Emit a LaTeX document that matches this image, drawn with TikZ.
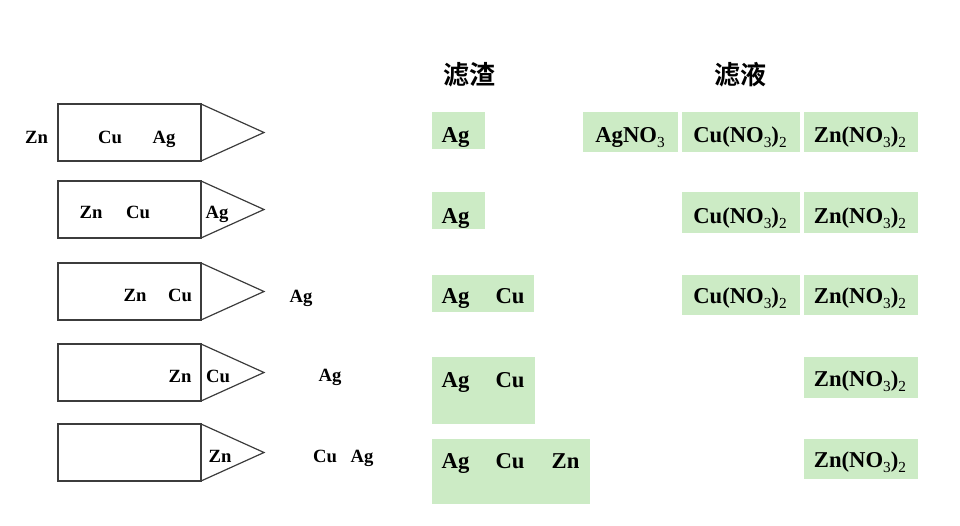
\documentclass[tikz,border=0pt]{standalone}
\usepackage{fontspec}
\setmainfont{Liberation Serif}
\newfontfamily\cjk{Noto Sans CJK SC}[BoldFont={Noto Sans CJK SC Bold}]
\definecolor{lg}{RGB}{204,235,197}
\definecolor{pen}{RGB}{60,60,60}
\newcommand\chsub[1]{\raisebox{-0.5ex}{\fontsize{11.5}{12}\selectfont\mdseries #1}}
\tikzset{
 pencilline/.style={draw=pen,line width=0.9pt,line join=miter},
 lbl/.style={font=\fontsize{14}{16}\selectfont\bfseries, anchor=base, inner sep=0pt},
 rl/.style={font=\fontsize{17}{19}\selectfont\bfseries, anchor=base, inner sep=0pt},
 gbox/.style={fill=lg},
 hdr/.style={font=\cjk\bfseries\fontsize{19.5}{22}\selectfont, inner sep=0pt}
}
\begin{document}
\begin{tikzpicture}[x=0.75pt,y=-0.75pt]
\useasboundingbox (0,0) rectangle (960,525);
% pencils
\foreach \t in {104,181,263,344,424}{
  \draw[pencilline] (58,\t) rectangle (201,\t+57);
  \draw[pencilline] (201,\t) -- (264,\t+28.5) -- (201,\t+57);
}
% left labels
\node[lbl] (a1) at (36.5,143) {Zn};
\node[lbl] (a2) at (110,143) {Cu};
\node[lbl] (a3) at (164,143) {Ag};
\node[lbl] (b1) at (91,218) {Zn};
\node[lbl] (b2) at (138,218) {Cu};
\node[lbl] (b3) at (217,218) {Ag};
\node[lbl] (c1) at (135,301) {Zn};
\node[lbl] (c2) at (180,301) {Cu};
\node[lbl] (c3) at (301,302) {Ag};
\node[lbl] (d1) at (180,382) {Zn};
\node[lbl] (d2) at (218,382) {Cu};
\node[lbl] (d3) at (330,381) {Ag};
\node[lbl] (e1) at (220,462) {Zn};
\node[lbl] (e2) at (325,462) {Cu};
\node[lbl] (e3) at (362,462) {Ag};
% headers
\node[hdr] (h1) at (469,74.5) {滤渣};
\node[hdr] (h2) at (740,74.5) {滤液};
% residue boxes
\fill[gbox] (432,112) rectangle (485,149);
\fill[gbox] (432,192) rectangle (485,229);
\fill[gbox] (432,275) rectangle (534,312);
\fill[gbox] (432,357) rectangle (535,424);
\fill[gbox] (432,439) rectangle (590,504);
\node[rl] (r1) at (455.5,142) {Ag};
\node[rl] (r2) at (455.5,223) {Ag};
\node[rl] (r3a) at (455.5,303) {Ag};
\node[rl] (r3b) at (510,303) {Cu};
\node[rl] (r4a) at (455.5,387) {Ag};
\node[rl] (r4b) at (510,387) {Cu};
\node[rl] (r5a) at (455.5,468) {Ag};
\node[rl] (r5b) at (510,468) {Cu};
\node[rl] (r5c) at (565.5,468) {Zn};
% filtrate boxes
\fill[gbox] (583,112) rectangle (678,152);
\fill[gbox] (682,112) rectangle (800,152);
\fill[gbox] (804,112) rectangle (918,152);
\fill[gbox] (682,192) rectangle (800,233);
\fill[gbox] (804,192) rectangle (918,233);
\fill[gbox] (682,275) rectangle (800,315);
\fill[gbox] (804,275) rectangle (918,315);
\fill[gbox] (804,357) rectangle (918,398);
\fill[gbox] (804,439) rectangle (918,479);
\node[rl] (f1a) at (630,142) {AgNO\chsub{3}};
\node[rl] (f1b) at (740,142) {Cu(NO\chsub{3})\chsub{2}};
\node[rl] (f1c) at (860,142) {Zn(NO\chsub{3})\chsub{2}};
\node[rl] (f2b) at (740,223) {Cu(NO\chsub{3})\chsub{2}};
\node[rl] (f2c) at (860,223) {Zn(NO\chsub{3})\chsub{2}};
\node[rl] (f3b) at (740,303) {Cu(NO\chsub{3})\chsub{2}};
\node[rl] (f3c) at (860,303) {Zn(NO\chsub{3})\chsub{2}};
\node[rl] (f4c) at (860,386) {Zn(NO\chsub{3})\chsub{2}};
\node[rl] (f5c) at (860,467) {Zn(NO\chsub{3})\chsub{2}};
\end{tikzpicture}
\end{document}
